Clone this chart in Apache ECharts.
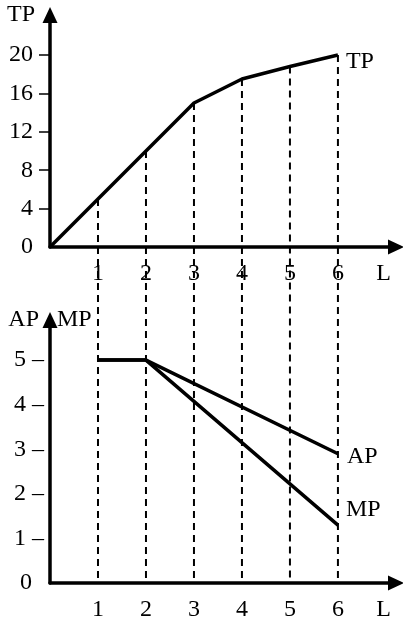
<!DOCTYPE html>
<html>
<head>
<meta charset="utf-8">
<script src="https://cdn.jsdelivr.net/npm/echarts@6/dist/echarts.min.js"></script>
<style>
    html, body {margin: 0; padding: 0; background: #fff;}
    #chart {width: 403px; height: 619px;}
</style>
</head>
<body>
<div id="chart"></div>
<script>
// labour input and total product
const labor = [0, 1, 2, 3, 4, 5, 6];
const tp = [0, 5, 10, 15, 17.5, 18.8, 20];
// average / marginal product (start at L=1)
const apmpL = [1, 2, 6];
const ap = [5, 5, 2.9];
const mp = [5, 5, 1.3];
// tick labels
const tpTicks = [0, 4, 8, 12, 16, 20];
const apmpTicks = [0, 1, 2, 3, 4, 5];
const lTicks = [1, 2, 3, 4, 5, 6];

const font = 'Liberation Serif';
const fontSize = 24;
const black = '#000';

const chart = echarts.init(document.getElementById('chart'));

function xAxisFor(gridIndex) {
    return {
        type: 'value',
        gridIndex: gridIndex,
        min: 0,
        max: 7.21,
        axisLine: {
            show: true,
            lineStyle: {color: black, width: 3.5},
            symbol: ['none', 'triangle'],
            symbolSize: [15, 16]
        },
        axisTick: {show: false},
        splitLine: {show: false},
        axisLabel: {
            customValues: lTicks.concat([6.95]),
            formatter: v => v > 6 ? 'L' : String(v),
            color: black,
            fontFamily: font,
            fontSize: fontSize,
            margin: 15
        }
    };
}

const option = {
    backgroundColor: '#fff',
    animation: false,
    grid: [
        {left: 50, right: 7, top: 15, height: 232, containLabel: false, outerBoundsMode: 'none'},
        {left: 50, right: 7, top: 320, height: 263, containLabel: false, outerBoundsMode: 'none'}
    ],
    xAxis: [xAxisFor(0), xAxisFor(1)],
    yAxis: [
        {
            type: 'value',
            gridIndex: 0,
            min: 0,
            max: 24.17,
            name: 'TP',
            nameLocation: 'end',
            nameGap: 0,
            nameTextStyle: {
                color: black, fontFamily: font, fontSize: fontSize,
                align: 'right', verticalAlign: 'middle', padding: [0, 15, 0, 0]
            },
            axisLine: {
                show: true,
                lineStyle: {color: black, width: 3.5},
                symbol: ['none', 'triangle'],
                symbolSize: [15, 16]
            },
            axisTick: {show: true, customValues: tpTicks.slice(1), length: 11, lineStyle: {color: black, width: 1.5}},
            splitLine: {show: false},
            axisLabel: {
                customValues: tpTicks,
                color: black,
                fontFamily: font,
                fontSize: fontSize,
                margin: 17
            }
        },
        {
            type: 'value',
            gridIndex: 1,
            min: 0,
            max: 5.9,
            name: 'AP   MP',
            nameLocation: 'end',
            nameGap: 0,
            nameTextStyle: {
                color: black, fontFamily: font, fontSize: fontSize,
                align: 'center', verticalAlign: 'middle'
            },
            axisLine: {
                show: true,
                lineStyle: {color: black, width: 3.5},
                symbol: ['none', 'triangle'],
                symbolSize: [15, 16]
            },
            axisTick: {show: false},
            splitLine: {show: false},
            axisLabel: {
                customValues: apmpTicks,
                formatter: v => v === 0 ? '0  ' : v + ' \u2013',
                color: black,
                fontFamily: font,
                fontSize: fontSize,
                margin: 6
            }
        }
    ],
    series: [
        {
            name: 'TP',
            type: 'line',
            xAxisIndex: 0,
            yAxisIndex: 0,
            data: labor.map((l, i) => [l, tp[i]]),
            showSymbol: false,
            lineStyle: {color: black, width: 3.5},
            endLabel: {show: true, formatter: 'TP', color: black, fontFamily: font, fontSize: fontSize, offset: [0, 7]}
        },
        {
            name: 'AP',
            type: 'line',
            xAxisIndex: 1,
            yAxisIndex: 1,
            data: apmpL.map((l, i) => [l, ap[i]]),
            showSymbol: false,
            lineStyle: {color: black, width: 3.5},
            endLabel: {show: true, formatter: 'AP', color: black, fontFamily: font, fontSize: fontSize, offset: [1, 3]}
        },
        {
            name: 'MP',
            type: 'line',
            xAxisIndex: 1,
            yAxisIndex: 1,
            data: apmpL.map((l, i) => [l, mp[i]]),
            showSymbol: false,
            lineStyle: {color: black, width: 3.5},
            endLabel: {show: true, formatter: 'MP', color: black, fontFamily: font, fontSize: fontSize, offset: [0, -15]}
        }
    ]
};

chart.setOption(option);

// dashed guides from the TP curve down to the lower L axis
const guides = lTicks.map(l => {
    const top = chart.convertToPixel({gridIndex: 0}, [l, tp[labor.indexOf(l)]]);
    const bottom = chart.convertToPixel({gridIndex: 1}, [l, 0]);
    return {
        type: 'line',
        z: 1,
        shape: {x1: top[0], y1: top[1], x2: bottom[0], y2: bottom[1]},
        style: {stroke: black, lineWidth: 2, lineDash: [7, 5]}
    };
});
chart.setOption({graphic: guides});
</script>
</body>
</html>
